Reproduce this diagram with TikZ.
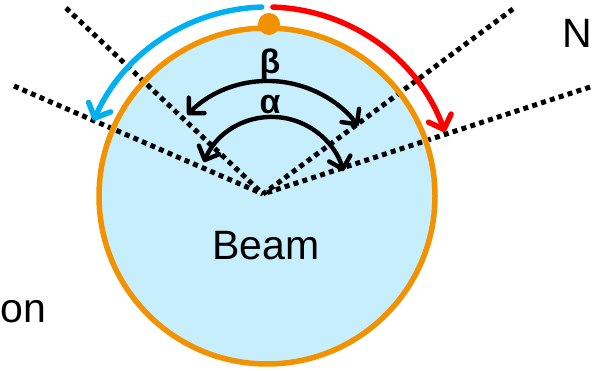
\documentclass[tikz,border=0pt]{standalone}
\usepackage{fontspec}
\setmainfont{Liberation Sans}
\usetikzlibrary{arrows.meta}
\definecolor{beamfill}{RGB}{199,238,252}
\definecolor{ringorange}{RGB}{242,146,0}
\definecolor{arcblue}{RGB}{0,176,240}
\definecolor{arcred}{RGB}{255,0,0}
\tikzset{
  ray/.style={line width=5pt, dash pattern=on 5pt off 4.3pt, black},
  bigarc/.style={line width=5.5pt, line cap=round, -{Straight Barb[length=12pt,width=24pt,line cap=round,line join=round]}},
  angarc/.style={line width=4.4pt, black, {Straight Barb[length=11pt,width=22pt,line cap=round,line join=round]}-{Straight Barb[length=11pt,width=22pt,line cap=round,line join=round]}},
  lbl/.style={inner sep=0pt, font=\fontsize{41}{48}\selectfont},
  greek/.style={inner sep=0pt, font=\fontsize{34}{40}\selectfont\bfseries}
}
\begin{document}
\begin{tikzpicture}[x=1pt,y=1pt]
\useasboundingbox (0,0) rectangle (593,371);
\coordinate (C) at (267,175);
\coordinate (V) at (263,177);
\coordinate (A) at (268,177);
\coordinate (B) at (272,180);
\coordinate (L1) at (66,363);
\coordinate (L2) at (14,285);
\coordinate (L3) at (513,362);
\coordinate (L4) at (590,284);
% beam disc
\fill[beamfill] (C) circle[radius=168];
% rays
\draw[ray] (L1) -- (V);
\draw[ray] (L2) -- (V);
\draw[ray] (L3) -- (V);
\draw[ray] (L4) -- (V);
% ring
\draw[ringorange, line width=5.5pt] (C) circle[radius=168];
\fill[ringorange] (269,347) circle[radius=11];
% outer arcs
\draw[bigarc, arcblue] ([shift={(91.6:189)}]C) arc[start angle=91.6, end angle=156.5, radius=189];
\draw[bigarc, arcred] ([shift={(88.2:189)}]C) arc[start angle=88.2, end angle=19.8, radius=189];
% angle arcs
\draw[angarc] ([shift={(135.5:113)}]A) arc[start angle=135.5, end angle=37, radius=113];
\draw[angarc] ([shift={(157:74)}]B) arc[start angle=157, end angle=15.5, radius=74];
% labels
\node[greek] (beta) at (270,306) {β};
\node[greek] (alpha) at (270,266) {α};
\node[lbl, anchor=base] (beam) at (266,111) {Beam};
\node[lbl, anchor=base west] (n) at (562,323) {N};
\node[lbl, anchor=base west] (on) at (0.5,48) {on};
\end{tikzpicture}
\end{document}
